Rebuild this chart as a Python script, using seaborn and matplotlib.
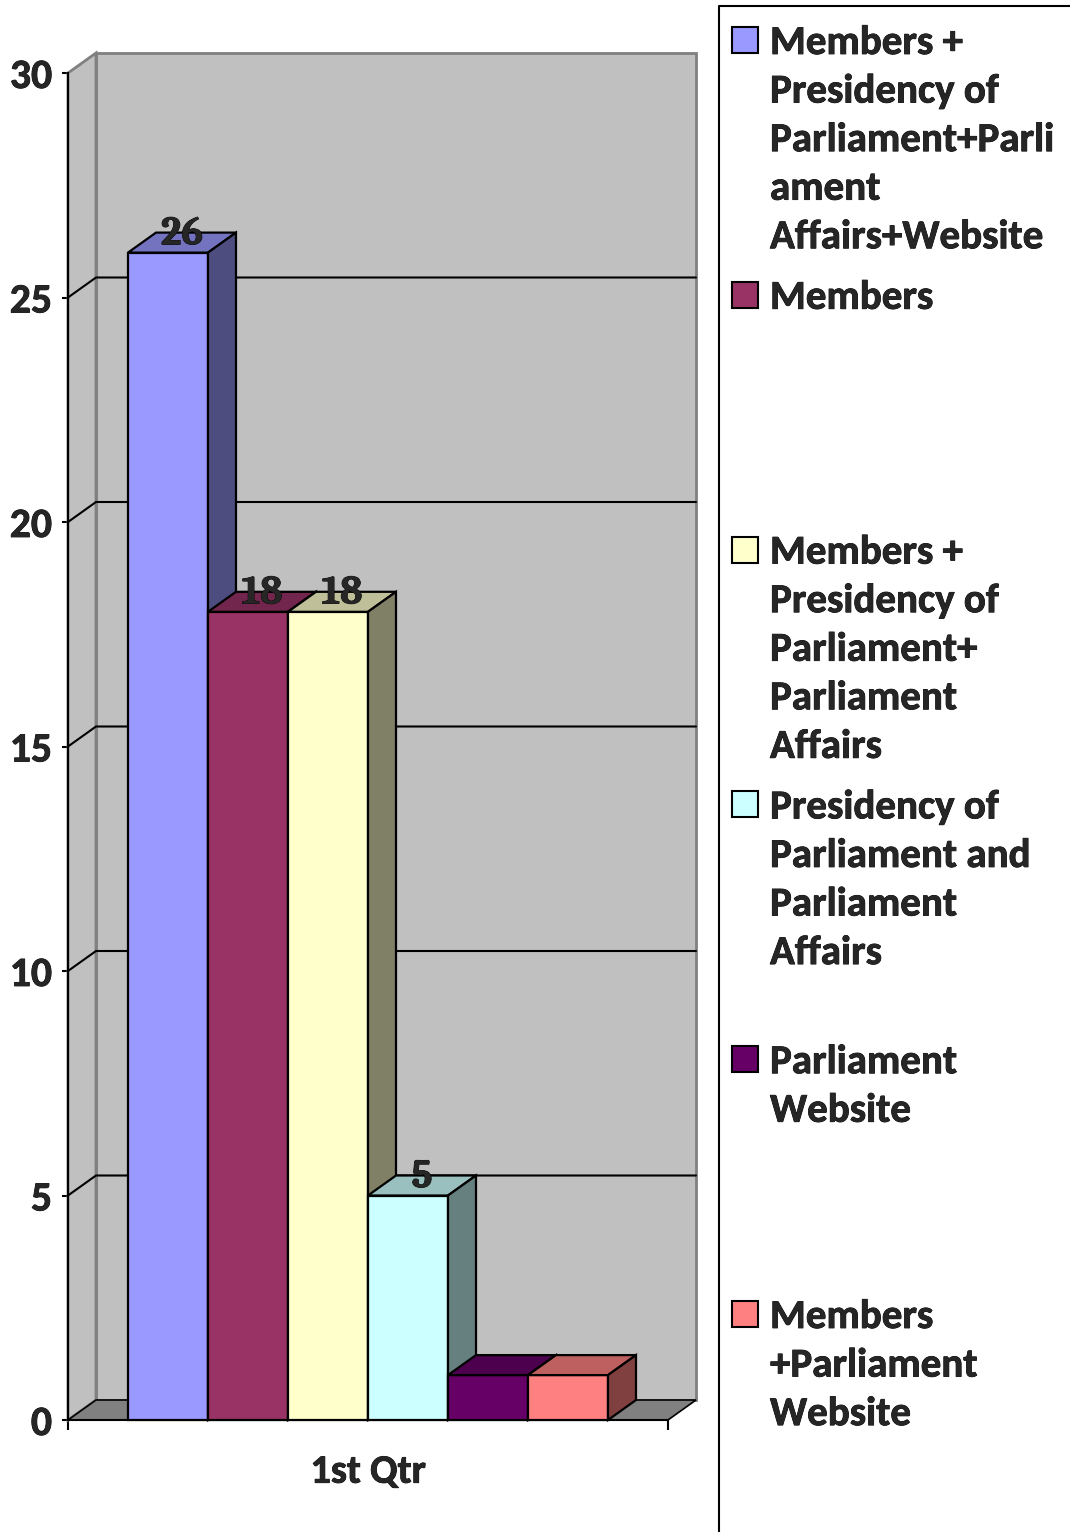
import numpy as np
import pandas as pd
import matplotlib
matplotlib.use("Agg")
import matplotlib.pyplot as plt
from matplotlib.patches import Polygon, Rectangle
from matplotlib.lines import Line2D
import matplotlib.colors as mcolors
import matplotlib.patheffects as pe
import seaborn as sns

# ---------------- data ----------------
categories = ["1st Qtr"]
series = [
    "Members + Presidency of Parliament+Parliament Affairs+Website",
    "Members",
    "Members + Presidency of Parliament+ Parliament Affairs",
    "Presidency of Parliament and Parliament Affairs",
    "Parliament Website",
    "Members +Parliament Website",
]
values = [26, 18, 18, 5, 1, 1]
colors = ["#9999FF", "#993366", "#FFFFCC", "#CCFFFF", "#660066", "#FF8080"]
show_label = [True, True, True, True, False, False]
y_ticks = [0, 5, 10, 15, 20, 25, 30]


def wrap(s, width=16):
    lines, cur = [], ""
    for word in s.split():
        cand = word if not cur else cur + " " + word
        if len(cand) <= width:
            cur = cand
            continue
        if cur:
            lines.append(cur)
            cur = ""
        while len(word) > width:
            lines.append(word[:width])
            word = word[width:]
        cur = word
    if cur:
        lines.append(cur)
    return "\n".join(lines)


# ---------------- figure ----------------
W, H = 1070, 1532
sns.set_style("white")
SANS = ['Carlito', 'Lato', 'DejaVu Sans']
SERIF = ['Caladea', 'Liberation Serif', 'DejaVu Serif']
plt.rcParams['font.family'] = SANS
fig = plt.figure(figsize=(W / 100, H / 100), dpi=100)
heavy = [pe.withStroke(linewidth=0.55, foreground="black")]

px_x0, px_y0 = 68, 1420          # front origin (x=-0.5, y=0)
px_per_x = 600.0
px_per_y = (1420 - 73) / 30.0
dx = 28 / px_per_x
dy = 20 / px_per_y

xlo, xhi = -0.5, 0.5 + dx + 3 / px_per_x
ylo, yhi = 0, 30 + dy + 3 / px_per_y
ax = fig.add_axes([px_x0 / W, 1 - px_y0 / H,
                   (xhi - xlo) * px_per_x / W, (yhi - ylo) * px_per_y / H])

df = pd.DataFrame({"quarter": categories * len(series),
                   "series": series, "value": values})
sns.barplot(data=df, x="quarter", y="value", hue="series", hue_order=series,
            palette=colors, saturation=1, width=0.8, edgecolor="black",
            linewidth=1.6, legend=False, ax=ax)
bars = sorted(list(ax.patches), key=lambda p: p.get_x())

ax.set_xlim(xlo, xhi)
ax.set_ylim(ylo, yhi)
ax.set_facecolor("none")

# walls and floor
wall = "#C0C0C0"
ax.add_patch(Polygon([(-0.5 + dx, dy), (0.5 + dx, dy), (0.5 + dx, 30 + dy), (-0.5 + dx, 30 + dy)],
                     closed=True, facecolor=wall, edgecolor="#808080", lw=2, zorder=1, clip_on=False))
ax.add_patch(Polygon([(-0.5, 0), (-0.5 + dx, dy), (-0.5 + dx, 30 + dy), (-0.5, 30)],
                     closed=True, facecolor=wall, edgecolor="#808080", lw=2, zorder=1, clip_on=False))
ax.add_patch(Polygon([(-0.5, 0), (0.5, 0), (0.5 + dx, dy), (-0.5 + dx, dy)],
                     closed=True, facecolor="#808080", edgecolor="black", lw=1.2, zorder=2, clip_on=False))
for v in y_ticks[1:-1]:
    ax.plot([-0.5, -0.5 + dx, 0.5 + dx], [v, v + dy, v + dy], color="black", lw=1.5,
            zorder=3, clip_on=False)

# 3D bars
for i, p in enumerate(bars):
    x0, w, h = p.get_x(), p.get_width(), p.get_height()
    base = np.array(mcolors.to_rgb(colors[i]))
    p.set_zorder(10 + i)
    p.set_clip_on(False)
    top = Polygon([(x0, h), (x0 + w, h), (x0 + w + dx, h + dy), (x0 + dx, h + dy)],
                  closed=True, facecolor=base * 0.75, edgecolor="black", lw=1.6,
                  zorder=10 + i, clip_on=False)
    side = Polygon([(x0 + w, 0), (x0 + w + dx, dy), (x0 + w + dx, h + dy), (x0 + w, h)],
                   closed=True, facecolor=base * 0.5, edgecolor="black", lw=1.6,
                   zorder=10 + i, clip_on=False)
    ax.add_patch(top)
    ax.add_patch(side)
    if show_label[i]:
        ax.text(x0 + w / 2 + dx / 2, h + dy - 2 / px_per_y, f"{values[i]:g}",
                ha="center", va="center", fontsize=29, fontweight="bold", family=SERIF,
                zorder=40, path_effects=heavy)

# axes
for s in ["top", "right"]:
    ax.spines[s].set_visible(False)
ax.spines["left"].set_bounds(0, 30)
ax.spines["bottom"].set_bounds(-0.5, 0.5)
for s in ["left", "bottom"]:
    ax.spines[s].set_color("black")
    ax.spines[s].set_linewidth(1.5)
    ax.spines[s].set_zorder(5)

ax.set_yticks(y_ticks)
ax.set_yticklabels([str(t) for t in y_ticks], fontsize=30, fontweight="bold")
ax.tick_params(axis="y", left=True, direction="out", length=4.5, width=1.5, pad=7, color="black")
ax.set_xticks([0])
ax.set_xticklabels(categories, fontsize=29, fontweight="bold")
ax.set_xticks([-0.5, 0.5], minor=True)
ax.tick_params(axis="x", which="major", bottom=False, length=0, pad=25)
ax.tick_params(axis="x", which="minor", bottom=True, direction="out", length=7, width=1.5, color="black")
ax.set_xlabel("")
ax.set_ylabel("")
for t in ax.get_yticklabels() + ax.get_xticklabels():
    t.set_path_effects(heavy)

# legend (manual, equal slots)
fig.add_artist(Line2D([719 / W, 719 / W, 1.01], [-0.01, 1 - 6 / H, 1 - 6 / H],
                      transform=fig.transFigure, color="black", lw=1.5))
slot = 254.8
for i, name in enumerate(series):
    ytop = 27 + i * slot
    fig.add_artist(Rectangle((732 / W, 1 - (ytop + 26) / H), 26 / W, 26 / H,
                             transform=fig.transFigure, facecolor=colors[i],
                             edgecolor="black", lw=1.5))
    fig.text(770 / W, 1 - (ytop - 1) / H, wrap(name, 16), ha="left", va="top",
             fontsize=29.5, fontweight="bold", linespacing=1.52, path_effects=heavy)

fig.savefig("out.png", dpi=100)
